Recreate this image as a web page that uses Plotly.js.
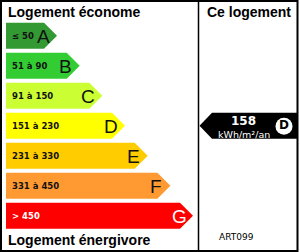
<!DOCTYPE html>
<html>
<head>
<meta charset="utf-8">
<script src="https://cdn.plot.ly/plotly-3.0.1.min.js"></script>
<style>html,body{margin:0;padding:0;background:#fff;}#chart{width:300px;height:252px;}</style>
</head>
<body>
<div id="chart"></div>
<script>
// ---- data ----
const grades = ['A', 'B', 'C', 'D', 'E', 'F', 'G'];
const rangeLabels = ['≤ 50', '51 à 90', '91 à 150', '151 à 230', '231 à 330', '331 à 450', '> 450'];
const gradeColors = ['#339933', '#33cc33', '#ccff33', '#ffff00', '#ffcc00', '#ff9a33', '#ff0000'];
const textColors = ['#111', '#111', '#111', '#111', '#111', '#111', '#ffffff'];
const headerLeftTop = 'Logement économe';
const headerLeftBottom = 'Logement énergivore';
const headerRight = 'Ce logement';
const dwellingValue = 158;
const dwellingUnit = 'kWh/m²/an';
const dwellingGrade = 'D';
const referenceCode = 'ART099';

// ---- geometry (layout, pixel-like coordinates) ----
const X0 = 6, TOP0 = 22.7, STEP = 30, BAR_H = 26, TIP0 = 57, TIP_STEP = 22.67, POINT = 13;
const DIVIDER = 198.5, RIGHT = 297.5;

const traces = [];
const annotations = [];
grades.forEach((g, i) => {
  const top = TOP0 + STEP * i, bot = top + BAR_H, mid = (top + bot) / 2;
  const tip = TIP0 + TIP_STEP * i, body = tip - POINT;
  traces.push({
    type: 'scatter', mode: 'lines', fill: 'toself',
    x: [X0, body, tip, body, X0, X0],
    y: [top, top, mid, bot, bot, top],
    fillcolor: gradeColors[i], line: {width: 0, color: gradeColors[i]},
    hoverinfo: 'skip', showlegend: false
  });
  annotations.push({
    x: X0 + 4, y: mid + 0.5, xref: 'x', yref: 'y', text: rangeLabels[i], showarrow: false,
    xanchor: 'left', yanchor: 'middle',
    font: {family: 'DejaVu Sans', size: 8.5, color: textColors[i], weight: 'bold'}
  });
  annotations.push({
    x: tip - 14, y: mid + 1, xref: 'x', yref: 'y', text: g, showarrow: false,
    xanchor: 'center', yanchor: 'middle',
    font: {family: 'Liberation Sans, Arial', size: 19, color: textColors[i]}
  });
});

// current dwelling arrow, aligned with its grade row
const gi = grades.indexOf(dwellingGrade);
const aTop = TOP0 + STEP * gi, aBot = aTop + BAR_H, aMid = (aTop + aBot) / 2;
traces.push({
  type: 'scatter', mode: 'lines', fill: 'toself',
  x: [DIVIDER + 1, DIVIDER + 13.5, RIGHT - 0.5, RIGHT - 0.5, DIVIDER + 13.5, DIVIDER + 1],
  y: [aMid, aTop, aTop, aBot, aBot, aMid],
  fillcolor: '#000000', line: {width: 0}, hoverinfo: 'skip', showlegend: false
});
traces.push({
  type: 'scatter', mode: 'markers+text', x: [284], y: [aMid + 0.5],
  marker: {size: 17, color: '#ffffff', line: {width: 0}},
  text: [dwellingGrade], textposition: 'middle center',
  textfont: {family: 'DejaVu Sans', size: 12, color: '#000', weight: 'bold'},
  hoverinfo: 'skip', showlegend: false
});
annotations.push({
  x: 243.5, y: aMid - 4.5, xref: 'x', yref: 'y', text: String(dwellingValue), showarrow: false,
  xanchor: 'center', yanchor: 'middle',
  font: {family: 'DejaVu Sans', size: 12, color: '#fff', weight: 'bold'}
});
annotations.push({
  x: 244, y: aMid + 8.5, xref: 'x', yref: 'y', text: dwellingUnit, showarrow: false,
  xanchor: 'center', yanchor: 'middle',
  font: {family: 'DejaVu Sans', size: 9.5, color: '#fff'}
});

// headers
annotations.push({x: 5.5, y: 11.5, xref: 'x', yref: 'y', text: headerLeftTop, showarrow: false,
  xanchor: 'left', yanchor: 'middle', font: {family: 'Liberation Sans, Arial', size: 14, color: '#000', weight: 'bold'}});
annotations.push({x: 5.5, y: 239.5, xref: 'x', yref: 'y', text: headerLeftBottom, showarrow: false,
  xanchor: 'left', yanchor: 'middle', font: {family: 'Liberation Sans, Arial', size: 14, color: '#000', weight: 'bold'}});
annotations.push({x: 248.5, y: 12, xref: 'x', yref: 'y', text: headerRight, showarrow: false,
  xanchor: 'center', yanchor: 'middle', font: {family: 'Liberation Sans, Arial', size: 14, color: '#000', weight: 'bold'}});
annotations.push({x: 217, y: 236.5, xref: 'x', yref: 'y', text: referenceCode, showarrow: false,
  xanchor: 'left', yanchor: 'middle', font: {family: 'DejaVu Sans', size: 9, color: '#000'}});

const shapes = [
  {type: 'rect', xref: 'x', yref: 'y', x0: 1, y0: 1, x1: RIGHT, y1: 251, line: {color: '#000', width: 2}},
  {type: 'line', xref: 'x', yref: 'y', x0: DIVIDER, y0: 1, x1: DIVIDER, y1: 251, line: {color: '#000', width: 1.5}}
];

const layout = {
  width: 300, height: 252,
  margin: {l: 0, r: 0, t: 0, b: 0, pad: 0},
  paper_bgcolor: '#fff', plot_bgcolor: '#fff',
  xaxis: {range: [0, 300], visible: false, fixedrange: true},
  yaxis: {range: [252, 0], visible: false, fixedrange: true},
  showlegend: false,
  annotations: annotations,
  shapes: shapes
};
Plotly.newPlot('chart', traces, layout, {staticPlot: true, displayModeBar: false});
</script>
</body>
</html>
